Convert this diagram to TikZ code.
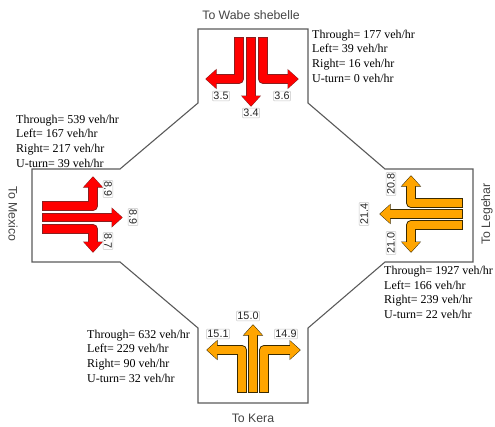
\documentclass[tikz,border=0pt]{standalone}
\usepackage{fontspec}
\setmainfont{Liberation Serif}
\newfontfamily\labelsans{Liberation Sans}
\definecolor{roadline}{HTML}{5A5A5A}
\definecolor{redfill}{HTML}{FF0000}
\definecolor{rededge}{HTML}{8A2020}
\definecolor{orfill}{HTML}{FFA500}
\definecolor{oredge}{HTML}{3A2A00}
\definecolor{labgray}{HTML}{444444}
\tikzset{
  road/.style={draw=roadline, line width=1.1pt, line join=miter},
  flowtext/.style={font=\fontsize{12}{14.7}\selectfont, align=left, inner sep=0pt, anchor=west},
  dirtext/.style={font=\labelsans\fontsize{12.3}{14}\selectfont, text=labgray, inner sep=0pt},
  valbox/.style={draw=gray!45, fill=white, rounded corners=1pt, inner sep=1.1pt,
    font=\labelsans\fontsize{10.8}{12}\selectfont, text=black!85},
}
% arrow heads: tip at (#1,#2)
\newcommand\hL[2]{(#1,#2) -- ({#1+10},{#2-9}) -- ({#1+10},{#2+9})}
\newcommand\hR[2]{(#1,#2) -- ({#1-10},{#2-9}) -- ({#1-10},{#2+9})}
\newcommand\hU[2]{(#1,#2) -- ({#1-9},{#2+10}) -- ({#1+9},{#2+10})}
\newcommand\hD[2]{(#1,#2) -- ({#1-9},{#2-10}) -- ({#1+9},{#2-10})}
% #1 fill, #2 edge, #3 stem path, #4 head
\newcommand\bigarrow[4]{%
  \draw[line width=9.8pt, draw=#2, line join=round] #3;
  \draw[line width=1pt, draw=#2, fill=#2, line join=miter] #4 -- cycle;
  \draw[line width=7.8pt, draw=#1, line join=round, shorten <=1pt] #3;
  \fill[#1] #4 -- cycle;
}
\begin{document}
\begin{tikzpicture}[x=1pt,y=-1pt]
\useasboundingbox (0,0) rectangle (495,426);
% road outline
\draw[road] (198,29) -- (308,29) -- (308,103) -- (385,169) -- (473,169) -- (473,262)
  -- (385,262) -- (308,328) -- (308,403) -- (198,403) -- (198,328) -- (120,262)
  -- (32,262) -- (32,169) -- (120,169) -- (198,103) -- cycle;

% north approach (red)
\bigarrow{redfill}{rededge}{(239,37) -- (239,79) -- (214,79)}{\hL{206}{79}}
\bigarrow{redfill}{rededge}{(251,37) -- (251,98)}{\hD{251}{106}}
\bigarrow{redfill}{rededge}{(263,37) -- (263,79) -- (290,79)}{\hR{298}{79}}
% west approach (red)
\bigarrow{redfill}{rededge}{(42,206) -- (93,206) -- (93,185)}{\hU{93}{177}}
\bigarrow{redfill}{rededge}{(42,217.5) -- (114,217.5)}{\hR{122}{217.5}}
\bigarrow{redfill}{rededge}{(42,229) -- (93,229) -- (93,244)}{\hD{93}{252}}
% east approach (orange)
\bigarrow{orfill}{oredge}{(463,203) -- (411,203) -- (411,184)}{\hU{411}{176}}
\bigarrow{orfill}{oredge}{(463,214) -- (388,214)}{\hL{380}{214}}
\bigarrow{orfill}{oredge}{(463,225) -- (411,225) -- (411,244)}{\hD{411}{252}}
% south approach (orange)
\bigarrow{orfill}{oredge}{(242,393) -- (242,350) -- (215,350)}{\hL{207}{350}}
\bigarrow{orfill}{oredge}{(253,393) -- (253,333)}{\hU{253}{325}}
\bigarrow{orfill}{oredge}{(264,393) -- (264,350) -- (292,350)}{\hR{300}{350}}

% value boxes
\node[valbox] (n1) at (221,96) {3.5};
\node[valbox] (n2) at (282,96) {3.6};
\node[valbox] (n3) at (251,113) {3.4};
\node[valbox, rotate=-90] (w1) at (108,189) {8.9};
\node[valbox, rotate=-90] (w2) at (133,217) {8.9};
\node[valbox, rotate=-90] (w3) at (108,241) {8.7};
\node[valbox, rotate=90] (e1) at (391,184) {20.8};
\node[valbox, rotate=90] (e2) at (364,214) {21.4};
\node[valbox, rotate=90] (e3) at (391,243) {21.0};
\node[valbox] (s1) at (248,316) {15.0};
\node[valbox] (s2) at (218,334) {15.1};
\node[valbox] (s3) at (286,334) {14.9};

% direction labels
\node[dirtext] (dn) at (251,15) {To Wabe shebelle};
\node[dirtext, rotate=-90] (dw) at (13,214) {To Mexico};
\node[dirtext, rotate=90] (de) at (487,214) {To Legehar};
\node[dirtext] (ds) at (253,418) {To Kera};

% volume texts
\node[flowtext] (vn) at (312,56) {Through= 177 veh/hr\\Left= 39 veh/hr\\Right= 16 veh/hr\\U-turn= 0 veh/hr};
\node[flowtext] (vw) at (16,141) {Through= 539 veh/hr\\Left= 167 veh/hr\\Right= 217 veh/hr\\U-turn= 39 veh/hr};
\node[flowtext] (vs) at (87,356) {Through= 632 veh/hr\\Left= 229 veh/hr\\Right= 90 veh/hr\\U-turn= 32 veh/hr};
\node[flowtext] (ve) at (384,292.5) {Through= 1927 veh/hr\\Left= 166 veh/hr\\Right= 239 veh/hr\\U-turn= 22 veh/hr};
\end{tikzpicture}
\end{document}
